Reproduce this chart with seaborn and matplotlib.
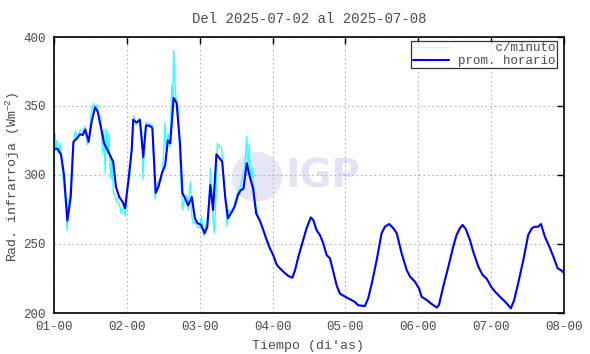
import numpy as np
import pandas as pd
import matplotlib
matplotlib.use("Agg")
import matplotlib.pyplot as plt
import seaborn as sns
from matplotlib.patches import Ellipse

# ---------------- data ----------------
title = "Del 2025-07-02 al 2025-07-08"
xlabel = "Tiempo (di'as)"
ylabel = "Rad. infrarroja (Wm$^{-2}$)"
tick_labels = ["01-00", "02-00", "03-00", "04-00", "05-00", "06-00", "07-00", "08-00"]
y_ticks = [200, 250, 300, 350, 400]

# hourly average (hours since 01-00, value)
hourly_h = [0, 1.1, 2.3, 3.3, 4.4, 5.5, 6.4, 7.5, 8.6, 9.5, 10.3, 11.4, 12.4, 13.5, 14.4, 15.4,
            16.5, 17.6, 18.4, 19.5, 20.4, 21.5, 22.6, 23.4, 24.5, 25.6, 26.1, 27.2, 28.3, 29.4,
            30.3, 31.6, 32.4, 33.5, 34.4, 35.5, 36.6, 37.5, 38.3, 39.4, 40.4, 41.5, 42.3, 43.2,
            44.2, 45.4, 46.4, 47.3, 48.4, 49.6, 50.5, 51.5, 52.4, 53.5, 54.6, 55.4, 56.4, 57.3,
            58.4, 59.5, 60.6, 61.5, 62.4, 63.5, 64.5, 65.6, 66.6, 67.8, 68.8, 69.9, 71.1, 72.2,
            73.4, 74.4, 76.1, 77.2, 78.5, 79.4, 80.5, 82.1, 83.2, 84.6, 85.4, 86.5, 87.6, 88.7,
            89.8, 90.9, 92.0, 93.1, 94.2, 95.9, 97.5, 99.1, 100.2, 102.4, 103.5, 104.7, 106.3,
            107.9, 109.0, 110.4, 111.8, 112.9, 114.5, 116.2, 117.3, 118.9, 120.3, 121.1, 122.8,
            124.4, 126.1, 126.8, 128.2, 129.9, 131.5, 132.6, 133.7, 134.6, 135.7, 137.0, 138.1,
            139.8, 141.2, 142.5, 144.0, 145.3, 146.9, 148.6, 149.9, 150.5, 151.6, 152.9, 154.6,
            156.2, 157.4, 158.4, 159.5, 160.4, 161.7, 163.4, 164.5, 165.9, 167.2, 168.0]
hourly_v = [319, 319, 315, 300, 267, 284, 324, 326.5, 329.5, 329, 333, 324, 338.6, 349, 346, 335,
            323, 318, 314.5, 309.6, 291.5, 284, 280.6, 276, 296, 318, 340, 338, 340, 313,
            336, 335.5, 334, 287, 291.5, 301, 307, 325, 323, 356, 352, 323, 287, 283,
            278, 284, 268.6, 265, 264, 257.7, 262.5, 292.7, 274.6, 315, 312, 309.6, 284, 268.6,
            272.7, 277, 285.5, 289, 290, 308.5, 298.8, 290, 272, 267, 261, 254, 247, 242,
            234.8, 232.4, 228.8, 226.8, 225.6, 231, 240.8, 253, 261.4, 269.3, 267.4, 260, 256.5, 250.5,
            242, 239.6, 230, 220, 214, 211.8, 210, 208, 205.6, 205, 210.6, 221.5, 238.4,
            257.7, 262.5, 264.5, 261.4, 257.8, 243.3, 231, 226.3, 222.7, 217.5, 211.8, 209.4,
            206.5, 204, 205.8, 219, 233.5, 248, 256.5, 261.4, 263.8, 260.6, 253, 244.4,
            233.5, 227.5, 225, 219, 215.4, 211.8, 208.2, 205, 203.4, 209.4, 221.5, 238.4,
            256.5, 261.4, 262.5, 262.5, 264.5, 255.3, 246.9, 240.8, 232.4, 230.7, 229]

# per-minute excursions read for days 1-3 (hours, value); later days follow the hourly curve
minute_h_early = [0, 0.3, 0.6, 1.0, 1.5, 2.0, 2.5, 3.0, 3.6, 4.0, 4.3, 4.6, 5.0, 5.6, 6.2, 7.0,
                  7.8, 8.6, 9.4, 10.2, 11.0, 11.6, 12.2, 13.0, 13.6, 14.2, 14.8, 15.4, 16.0, 16.4,
                  16.9, 17.2, 17.7, 18.1, 18.6, 19.0, 19.6, 20.2, 20.8, 21.5, 22.2, 22.9, 23.5,
                  24.3, 25.0, 25.7, 26.3, 27.0, 28.0, 29.0, 29.3, 29.7, 30.3, 31.3, 32.4, 33.3,
                  33.7, 34.4, 35.3, 36.0, 36.6, 37.0, 37.6, 38.2, 38.8, 39.1, 39.4, 39.7, 40.2,
                  40.8, 41.5, 42.3, 43.0, 43.6, 44.2, 44.6, 45.0, 45.4, 45.9, 46.4, 47.3, 48.0,
                  48.6, 49.3, 49.8, 50.5, 51.1, 51.5, 52.0, 52.4, 52.8, 53.3, 53.8, 54.6, 55.2,
                  55.8, 56.4, 57.0, 57.6, 58.4, 59.5, 60.6, 61.5, 62.2, 62.8, 63.2, 63.5, 63.9,
                  64.3, 64.8, 65.4, 66.0, 66.7, 67.6, 68.6, 69.6, 70.6, 71.5]
minute_v_early = [305, 330, 318, 325, 316, 323, 310, 298, 285, 275, 260, 270, 282, 296, 320, 332,
                  326, 333, 331, 335, 322, 329, 345, 352, 348, 351, 340, 343, 316, 333,
                  301, 333, 316, 330, 298, 312, 287, 285, 280, 279, 272, 276, 270,
                  290, 300, 325, 343, 336, 341, 330, 297, 318, 338, 337, 336, 283,
                  292, 295, 296, 312, 338, 318, 330, 320, 365, 350, 390, 372, 355,
                  350, 310, 275, 282, 285, 275, 290, 295, 270, 265, 266, 262, 262,
                  270, 256, 262, 268, 283, 305, 290, 268, 258, 280, 323, 320, 320,
                  300, 283, 263, 275, 272, 280, 288, 292, 300, 305, 318, 328, 302,
                  322, 295, 305, 285, 275, 268, 262, 255, 248, 245]
minute_h = minute_h_early + hourly_h[71:]
minute_v = minute_v_early + hourly_v[71:]

# ---------------- plotting ----------------
sns.set_style("white")
mono = ["Liberation Mono", "DejaVu Sans Mono"]
plt.rcParams["font.family"] = mono
plt.rcParams["mathtext.fontset"] = "custom"
plt.rcParams["mathtext.rm"] = "Liberation Mono"
plt.rcParams["mathtext.it"] = "Liberation Mono"
plt.rcParams["mathtext.default"] = "rm"

txt = "#4a4a4a"
W, H = 590, 354
fig = plt.figure(figsize=(W / 100, H / 100), dpi=100)
ax = fig.add_axes([54 / W, 1 - 313 / H, 510 / W, 276 / H])

# watermark (IGP logo)
ax.add_patch(Ellipse((0.398, 0.493), 50 / 510, 50 / 276, transform=ax.transAxes,
                     facecolor="#e6e6f5", edgecolor="none", zorder=0))
ax.text(0.527, 0.493, "IGP", transform=ax.transAxes, ha="center", va="center",
        fontsize=28, fontweight="bold", family=["DejaVu Sans"], color="#e3e3f3", zorder=0)

df_min = pd.DataFrame({"h": minute_h, "v": minute_v})
df_hr = pd.DataFrame({"h": hourly_h, "v": hourly_v})
sns.lineplot(data=df_min, x="h", y="v", ax=ax, color="#33ffff", lw=1.0,
             label="     c/minuto", sort=False, estimator=None, zorder=2)
sns.lineplot(data=df_hr, x="h", y="v", ax=ax, color="#0000ff", lw=1.5,
             label="prom. horario", sort=False, estimator=None, zorder=3)

ax.set_xlim(0, 168)
ax.set_ylim(200, 400)
ax.set_xticks(np.arange(len(tick_labels)) * 24)
ax.set_xticklabels(tick_labels)
ax.set_yticks(y_ticks)
ax.grid(True, color="#b4b4b4", linestyle=(0, (1.5, 2.5)), lw=0.8)
ax.tick_params(direction="in", length=5, width=1, top=True, right=True,
               labelsize=9, colors="black", labelcolor=txt, pad=6)
for s in ax.spines.values():
    s.set_color("black")
    s.set_linewidth(1.2)

ax.set_title(title, fontsize=10, color=txt, pad=10)
ax.set_xlabel(xlabel, fontsize=9.5, color=txt)
ax.xaxis.set_label_coords((308 - 54) / 510, -(346 - 313) / 276)
ax.xaxis.label.set_va("center")
ax.set_ylabel(ylabel, fontsize=9.5, color=txt)
ax.yaxis.set_label_coords((12.5 - 54) / 510, 0.495)
ax.yaxis.label.set_va("center")

leg = ax.legend(loc="upper right", bbox_to_anchor=((557 - 54) / 510, 1 - 4 / 276),
                frameon=True, fancybox=False, fontsize=9, handlelength=2.9,
                handletextpad=0.75, borderpad=0.1, labelspacing=0.05, borderaxespad=0.0)
leg.get_frame().set_edgecolor("black")
leg.get_frame().set_linewidth(0.9)
for t in leg.get_texts():
    t.set_color(txt)
leg.get_lines()[0].set_color("#b8ffff")

fig.savefig("out.png", dpi=100)
